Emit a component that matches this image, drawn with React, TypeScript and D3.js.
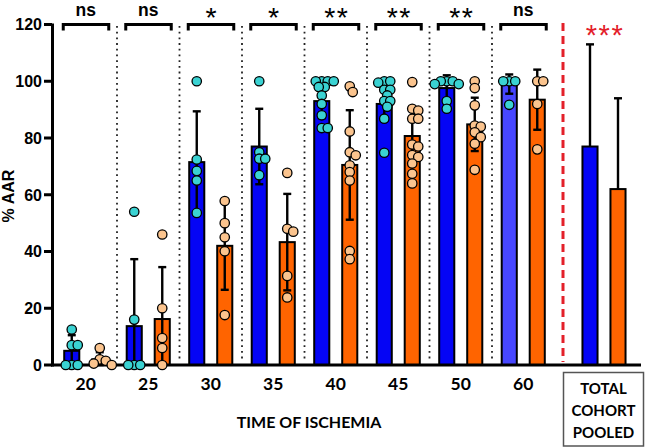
import React from "react";
import * as d3 from "d3";

const groups = ["20", "25", "30", "35", "40", "45", "50", "60"];
const significance = ["ns", "ns", "*", "*", "**", "**", "**", "ns"];
const blueMeans = [5, 13.7, 71.5, 77, 93, 92, 97.6, 99];
const blueSD = [5.5, 23.6, 17.9, 13.3, 6, 6, 4.5, 3.4];
const orangeMeans = [2, 16.2, 42, 43.3, 70.5, 80.7, 84.8, 93.5];
const orangeSD = [2.5, 18.3, 15.5, 17, 19.3, 10.2, 9.4, 10.6];
const bluePoints = [
  [12.5, 7, 7, 0, 0, 0],
  [54, 16, 0, 0, 0],
  [100, 72.4, 68.4, 65, 53.6],
  [100, 75, 72.7, 72.7, 66.9],
  [100, 100, 100, 100, 98, 98, 95, 92, 88, 83.5, 83.5],
  [100, 100, 99.5, 97, 97, 95, 93, 93, 91, 86.8, 74.8],
  [100, 100, 100, 99, 99, 93, 90.3],
  [100, 100, 100, 91.7],
];
const orangePoints = [
  [6, 2, 1.5, 0.5, 0],
  [46, 20, 9.5, 6, 0],
  [57.8, 50, 45, 40.1, 17.6],
  [67.7, 48, 47, 31.4, 23.8],
  [98.2, 96.2, 82.3, 75, 73.9, 70.4, 68, 65, 40.2, 37.3],
  [99.7, 90.3, 89.7, 86.8, 86.8, 77.7, 77, 74, 73.3, 71, 67.4, 64],
  [100, 97.6, 91.5, 84.4, 84, 82, 80.3, 78, 68.8],
  [100, 100, 92, 76],
];
const pooledMeans = [77, 62];
const pooledSD = [36, 32];
const pooledSignificance = "***";
const yTicks = [0, 20, 40, 60, 80, 100, 120];
const pooledLabel = ["TOTAL", "COHORT", "POOLED"];

const W = 645;
const H = 448;
const BLUE = "#0505f5";
const BLUE_LIGHT = "#4747ff";
const ORANGE = "#ff6400";
const CYAN = "#3ad2d2";
const PEACH = "#fbc48e";
const RED = "#e3202a";
const ARIAL = "'Liberation Sans', Arial, sans-serif";
const CAL = "Lato, 'Open Sans', sans-serif";

function swarm(values: number[], y: (v: number) => number, step: number, thresh: number) {
  const placed: { x: number; y: number; v: number }[] = [];
  const sorted = [...values].sort((a, b) => b - a);
  for (const v of sorted) {
    const py = y(v);
    for (let i = 0; i < 40; i++) {
      const k = i === 0 ? 0 : (i % 2 === 1 ? (i + 1) / 2 : -i / 2);
      const px = k * step;
      const ok = placed.every((p) => Math.hypot(p.x - px, p.y - py) >= thresh);
      if (ok) {
        placed.push({ x: px, y: py, v });
        break;
      }
    }
  }
  return placed;
}

export default function App() {
  const y = d3.scaleLinear().domain([0, 120]).range([365, 24.5]);
  const x = d3.scaleBand().domain(groups).range([54.5, 554.5]);
  const sub = d3
    .scaleBand()
    .domain(["blue", "orange"])
    .range([-28, 28])
    .paddingInner(0.39)
    .paddingOuter(0.195);
  const bw = sub.bandwidth();
  const cx = (g: string) => (x(g) as number) + x.bandwidth() / 2;
  const sx = (s: string) => (sub(s) as number) + bw / 2;
  const pooledX = 604;
  const dashX = 563;
  const r = 4.7;

  const bar = (center: number, mean: number, fill: string, key: string) => (
    <rect
      key={key}
      x={center - bw / 2 + 1}
      y={y(mean)}
      width={bw - 2}
      height={y(0) - y(mean)}
      fill={fill}
      stroke="#000"
      strokeWidth={2}
    />
  );

  const errBar = (center: number, mean: number, sd: number, key: string, both = true) => {
    const top = y(mean + sd);
    const bot = both ? y(Math.max(0, mean - sd)) : y(mean);
    return (
      <g key={key} stroke="#000" strokeWidth={2.4}>
        <line x1={center} x2={center} y1={top} y2={bot} />
        <line x1={center - 4} x2={center + 4} y1={top} y2={top} />
        {both && <line x1={center - 4} x2={center + 4} y1={bot} y2={bot} />}
      </g>
    );
  };

  return (
    <svg
      width={W}
      height={H}
      style={{ position: "absolute", left: 0, top: 0, background: "#fff" }}
    >
      {/* dotted separators */}
      {groups.slice(1).map((g) => (
        <line
          key={"sep" + g}
          x1={x(g) as number}
          x2={x(g) as number}
          y1={26}
          y2={362}
          stroke="#222"
          strokeWidth={1.8}
          strokeDasharray="1.8,3.9"
        />
      ))}
      <line
        x1={dashX}
        x2={dashX}
        y1={23}
        y2={362}
        stroke={RED}
        strokeWidth={3}
        strokeDasharray="8,5"
      />

      {/* bars */}
      {groups.map((g, i) => (
        <g key={"bars" + g}>
          {bar(cx(g) + sx("blue"), blueMeans[i], g === "60" ? BLUE_LIGHT : BLUE, "b")}
          {bar(cx(g) + sx("orange"), orangeMeans[i], ORANGE, "o")}
        </g>
      ))}
      {bar(pooledX + sx("blue"), pooledMeans[0], BLUE, "pb")}
      {bar(pooledX + sx("orange"), pooledMeans[1], ORANGE, "po")}

      {/* axes */}
      <line x1={52.5} x2={52.5} y1={y(120) - 1} y2={y(0) + 1.5} stroke="#000" strokeWidth={3} />
      <line x1={51} x2={641} y1={y(0)} y2={y(0)} stroke="#000" strokeWidth={3} />
      {yTicks.map((t) => (
        <g key={"yt" + t}>
          <line x1={44} x2={52} y1={y(t)} y2={y(t)} stroke="#000" strokeWidth={3} />
          <text
            x={42}
            y={y(t)}
            dy="0.36em"
            textAnchor="end"
            fontFamily={ARIAL}
            fontWeight="bold"
            fontSize={16}
          >
            {t}
          </text>
        </g>
      ))}

      {/* error bars */}
      {groups.map((g, i) => (
        <g key={"err" + g}>
          {errBar(cx(g) + sx("blue"), blueMeans[i], blueSD[i], "b")}
          {errBar(cx(g) + sx("orange"), orangeMeans[i], orangeSD[i], "o")}
        </g>
      ))}
      {errBar(pooledX + sx("blue"), pooledMeans[0], pooledSD[0], "pb", false)}
      {errBar(pooledX + sx("orange"), pooledMeans[1], pooledSD[1], "po", false)}

      {/* points */}
      {groups.map((g, i) => (
        <g key={"pts" + g} stroke="#000" strokeWidth={1.3}>
          {swarm(bluePoints[i], y, 3, 6).map((p, j) => (
            <circle key={"b" + j} cx={cx(g) + sx("blue") + p.x} cy={p.y} r={r} fill={CYAN} />
          ))}
          {swarm(orangePoints[i], y, 3, 6).map((p, j) => (
            <circle key={"o" + j} cx={cx(g) + sx("orange") + p.x} cy={p.y} r={r} fill={PEACH} />
          ))}
        </g>
      ))}

      {/* brackets and significance */}
      {groups.map((g, i) => {
        const c = cx(g);
        const l = c - 22.5;
        const rr = c + 23;
        const by = y(120);
        return (
          <g key={"sig" + g}>
            <path
              d={`M${l},${by + 6}V${by}H${rr}V${by + 6}`}
              fill="none"
              stroke="#000"
              strokeWidth={3}
            />
            {significance[i] === "ns" ? (
              <text
                x={c}
                y={16}
                textAnchor="middle"
                fontFamily={ARIAL}
                fontWeight="bold"
                fontSize={17.5}
              >
                ns
              </text>
            ) : (
              <text
                x={c + 1}
                y={26.5}
                textAnchor="middle"
                fontFamily={ARIAL}
                fontSize={28.5}
                letterSpacing={1.5}
              >
                {significance[i]}
              </text>
            )}
          </g>
        );
      })}
      <text
        x={pooledX + 1}
        y={45}
        textAnchor="middle"
        fontFamily={ARIAL}
        fontSize={29}
        letterSpacing={1.5}
        fill={RED}
      >
        {pooledSignificance}
      </text>

      {/* x labels */}
      {groups.map((g) => (
        <text
          key={"xl" + g}
          x={cx(g)}
          y={390}
          textAnchor="middle"
          fontFamily={CAL}
          fontWeight="bold"
          fontSize={17.5}
        >
          {g}
        </text>
      ))}
      <text
        x={309}
        y={428}
        textAnchor="middle"
        fontFamily={CAL}
        fontWeight="bold"
        fontSize={16}
      >
        TIME OF ISCHEMIA
      </text>
      <text
        transform={`translate(14,196) rotate(-90)`}
        textAnchor="middle"
        fontFamily={ARIAL}
        fontWeight="bold"
        fontSize={16}
      >
        % AAR
      </text>

      <rect x={563.5} y={372.5} width={80} height={73.5} fill="#fff" stroke="#555" strokeWidth={1.5} />
      {pooledLabel.map((t, i) => (
        <text
          key={t}
          x={603.5}
          y={394 + i * 22}
          textAnchor="middle"
          fontFamily={CAL}
          fontWeight="bold"
          fontSize={15}
        >
          {t}
        </text>
      ))}
    </svg>
  );
}
